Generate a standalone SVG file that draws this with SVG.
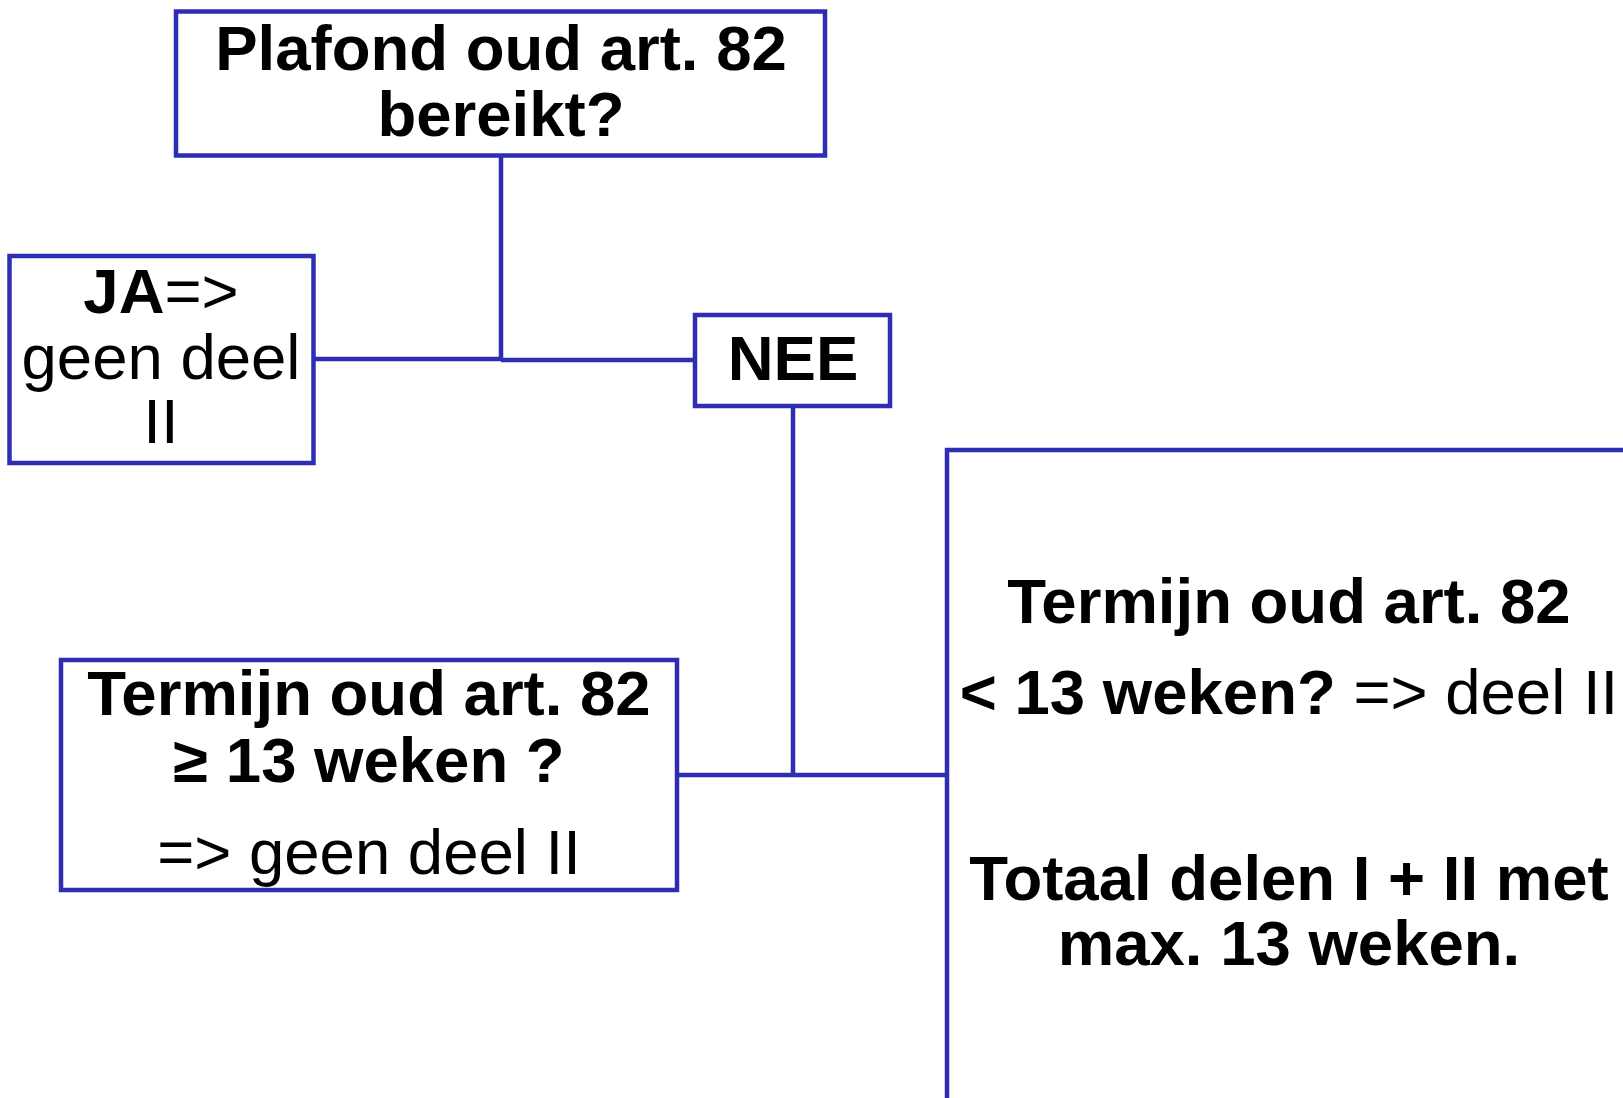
<svg xmlns="http://www.w3.org/2000/svg" width="1623" height="1098" viewBox="0 0 1623 1098">
<style>
.box{fill:#ffffff;stroke:#2E2EB5;stroke-width:4.5}
.ln{stroke:#2E2EB5;stroke-width:4.5;fill:none}
text{font-family:"Liberation Sans",Arial,sans-serif;font-size:63.5px;fill:#000;text-anchor:middle}
.b{font-weight:bold}
</style>
<rect width="1623" height="1098" fill="#ffffff"/>
<g id="connectors">
<line class="ln" x1="501" y1="155" x2="501" y2="361"/>
<line class="ln" x1="314" y1="359" x2="501" y2="359"/>
<line class="ln" x1="501" y1="360" x2="695" y2="360"/>
<line class="ln" x1="793" y1="406" x2="793" y2="775"/>
<line class="ln" x1="677" y1="775" x2="947" y2="775"/>
</g>
<g id="node-plafond">
<rect class="box" x="176" y="11.5" width="649" height="144"/>
<text class="b" x="501" y="70">Plafond oud art. 82</text>
<text class="b" x="501" y="136">bereikt?</text>
</g>
<g id="node-ja">
<rect class="box" x="9.5" y="256" width="304" height="207"/>
<text x="161" y="313"><tspan class="b">JA</tspan>=&gt;</text>
<text x="161" y="379">geen deel</text>
<text x="161" y="443">II</text>
</g>
<g id="node-nee">
<rect class="box" x="695" y="315" width="195" height="91"/>
<text class="b" x="793" y="380">NEE</text>
</g>
<g id="node-termijn-ge">
<rect class="box" x="61" y="660" width="616" height="230"/>
<text class="b" x="369" y="715">Termijn oud art. 82</text>
<text class="b" x="369" y="782">≥ 13 weken ?</text>
<text x="369" y="874">=&gt; geen deel II</text>
</g>
<g id="node-termijn-lt">
<rect class="box" x="947" y="450" width="800" height="800"/>
<text class="b" x="1289" y="623">Termijn oud art. 82</text>
<text x="1289" y="714"><tspan class="b">&lt; 13 weken?</tspan> =&gt; deel II</text>
<text class="b" x="1289" y="900">Totaal delen I + II met</text>
<text class="b" x="1289" y="965">max. 13 weken.</text>
</g>
</svg>
